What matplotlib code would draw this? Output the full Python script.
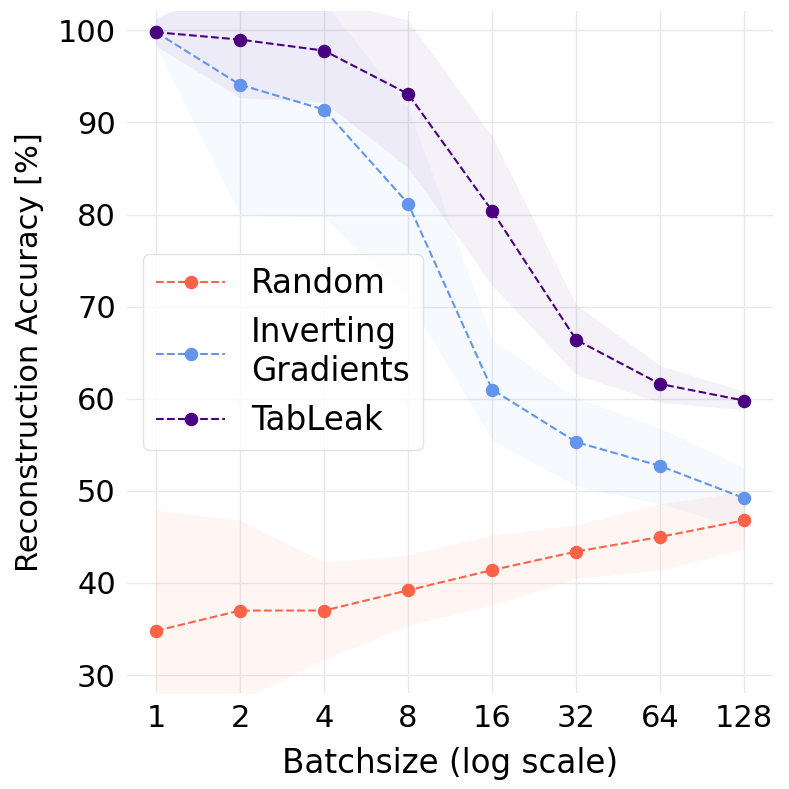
import matplotlib
matplotlib.use("Agg")
import matplotlib.pyplot as plt
import numpy as np

batch_sizes = [1, 2, 4, 8, 16, 32, 64, 128]
x_ticklabels = ["1", "2", "4", "8", "16", "32", "64", "128"]

random_mean = [34.8, 37.0, 37.0, 39.2, 41.4, 43.4, 45.0, 46.8]
random_std = [13.1, 9.8, 5.3, 3.8, 3.8, 2.9, 3.6, 3.1]

ig_mean = [99.8, 94.1, 91.4, 81.2, 61.0, 55.3, 52.7, 49.2]
ig_std = [1.5, 14.1, 11.7, 10.4, 5.5, 4.8, 4.1, 3.3]

tableak_mean = [99.8, 99.0, 97.8, 93.1, 80.4, 66.4, 61.6, 59.8]
tableak_std = [1.5, 6.3, 5.6, 8.0, 8.1, 3.8, 2.0, 1.0]

series = [
    ("Random", random_mean, random_std, "#FF6347"),
    ("Inverting\nGradients", ig_mean, ig_std, "#6495ED"),
    ("TabLeak", tableak_mean, tableak_std, "#4B0082"),
]

plt.rcParams["font.family"] = ["DejaVu Sans"]

fig = plt.figure(figsize=(7.89, 7.89), dpi=100)
ax = fig.add_axes([0.161, 0.1217, 0.819, 0.8643])

x = np.array(batch_sizes, dtype=float)
for label, mean, std, color in series:
    m = np.array(mean)
    s = np.array(std)
    ax.fill_between(x, m - s, m + s, color=color, alpha=0.055, linewidth=0, zorder=1)
for label, mean, std, color in series:
    ax.plot(x, mean, linestyle="--", marker="o", color=color, linewidth=1.5,
            markersize=8.7, label=label, zorder=3)

ax.set_xscale("log", base=2)
ax.set_xlim(2 ** -0.345, 2 ** 7.345)
ax.set_ylim(28.05, 102.1)
ax.set_xticks(batch_sizes)
ax.set_xticklabels(x_ticklabels)
ax.minorticks_off()
ax.set_yticks([30, 40, 50, 60, 70, 80, 90, 100])

ax.grid(True, color="#e8e8e8", linewidth=1.0, zorder=0)
ax.set_axisbelow(True)
for sp in ax.spines.values():
    sp.set_visible(False)
ax.tick_params(axis="both", length=0, labelsize=22, pad=8)

ax.set_xlabel("Batchsize (log scale)", fontsize=23.5, labelpad=10)
ax.set_ylabel("Reconstruction Accuracy [%]", fontsize=22, labelpad=10)

leg = ax.legend(loc="center left", fontsize=23.5, handlelength=2.1,
                frameon=True, fancybox=True, framealpha=0.8,
                edgecolor="#dddddd", borderpad=0.4, labelspacing=0.5)

fig.savefig("out.png", dpi=100)
